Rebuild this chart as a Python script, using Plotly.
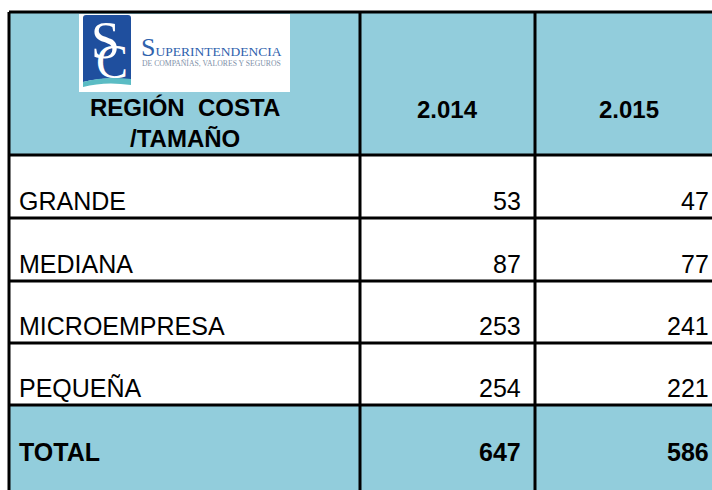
import plotly.graph_objects as go

# table content
header_label = "REGIÓN  COSTA<br>/TAMAÑO"
years = ["2.014", "2.015"]
sizes = ["GRANDE", "MEDIANA", "MICROEMPRESA", "PEQUEÑA"]
values_2014 = [53, 87, 253, 254]
values_2015 = [47, 77, 241, 221]
total_label = "TOTAL"
totals = [647, 586]

# layout of the sheet (pixel units on hidden axes)
col_edges = [9, 360, 535, 723]
row_edges = [12, 155, 218, 281, 343, 405, 500]
BLUE = "#92CDDC"
FONT = "Arial, Liberation Sans, sans-serif"
SERIF = "Times New Roman, Liberation Serif, serif"
W, H = 712, 490

fig = go.Figure()

# cell fills: header and total rows in blue, body rows white
z = [[1] * 3] + [[0] * 3 for _ in sizes] + [[1] * 3]
fig.add_trace(go.Heatmap(
    x=col_edges, y=row_edges, z=z,
    colorscale=[[0, "white"], [1, BLUE]],
    showscale=False, hoverinfo="skip",
))

# grid lines
for y in row_edges:
    fig.add_shape(type="line", x0=col_edges[0], x1=col_edges[-1], y0=y, y1=y,
                  line=dict(color="black", width=3))
for x in col_edges:
    fig.add_shape(type="line", x0=x, x1=x, y0=row_edges[0], y1=row_edges[-1],
                  line=dict(color="black", width=3))

# logo
fig.add_shape(type="rect", x0=79, x1=290, y0=14, y1=92, fillcolor="white", line_width=0, layer="above")
fig.add_shape(type="path", path="M 83,18 Q 83,15 86,15 L 128,15 Q 131,15 131,18 L 131,80 Q 105,76 83,82 Z",
              fillcolor="#1f4f9e", line_width=0, layer="above")
fig.add_shape(type="path", path="M 83,82 Q 105,76 131,79 L 131,85 Q 105,81 83,87 Z",
              fillcolor="#5bbcc4", line_width=0, layer="above")
fig.add_annotation(x=105, y=40, text="S", showarrow=False, xanchor="center", yanchor="middle",
                   font=dict(family=SERIF, size=52, color="white"))
fig.add_annotation(x=112, y=61, text="C", showarrow=False, xanchor="center", yanchor="middle",
                   font=dict(family=SERIF, size=48, color="white"))
fig.add_annotation(x=139, y=47, text="<span style='font-size:26px'>S</span>UPERINTENDENCIA",
                   showarrow=False, xanchor="left", yanchor="middle",
                   font=dict(family=SERIF, size=13.5, color="#2f62ad"))
fig.add_annotation(x=140, y=63, text="DE COMPAÑÍAS, VALORES Y SEGUROS",
                   showarrow=False, xanchor="left", yanchor="middle",
                   font=dict(family=SERIF, size=7.7, color="#8090a8"))

# header text
fig.add_annotation(x=(col_edges[0] + col_edges[1]) / 2, y=123, text="<b>%s</b>" % header_label,
                   showarrow=False, xanchor="center", yanchor="middle",
                   font=dict(family=FONT, size=24, color="black"))
for i, yr in enumerate(years):
    fig.add_annotation(x=(col_edges[i + 1] + col_edges[i + 2]) / 2, y=109, text="<b>%s</b>" % yr,
                       showarrow=False, xanchor="center", yanchor="middle",
                       font=dict(family=FONT, size=24, color="black"))

# body rows
for r, name in enumerate(sizes):
    yc = row_edges[r + 2] - 17
    fig.add_annotation(x=col_edges[0] + 8, y=yc, text=name, showarrow=False,
                       xanchor="left", yanchor="middle", font=dict(family=FONT, size=25, color="black"))
    for c, vals in enumerate([values_2014, values_2015]):
        fig.add_annotation(x=col_edges[c + 2] - 12, y=yc, text=str(vals[r]), showarrow=False,
                           xanchor="right", yanchor="middle", font=dict(family=FONT, size=25, color="black"))

# total row
yt = row_edges[5] + 47
fig.add_annotation(x=col_edges[0] + 8, y=yt, text="<b>%s</b>" % total_label, showarrow=False,
                   xanchor="left", yanchor="middle", font=dict(family=FONT, size=25, color="black"))
for c, t in enumerate(totals):
    fig.add_annotation(x=col_edges[c + 2] - 12, y=yt, text="<b>%d</b>" % t, showarrow=False,
                       xanchor="right", yanchor="middle", font=dict(family=FONT, size=25, color="black"))

fig.update_layout(
    width=W, height=H,
    margin=dict(l=0, r=0, t=0, b=0),
    paper_bgcolor="white", plot_bgcolor="white",
    showlegend=False,
    xaxis=dict(range=[0, W], visible=False, fixedrange=True),
    yaxis=dict(range=[H, 0], visible=False, fixedrange=True),
)

# drop the default page margin so the figure sits at the window's corner
fig.write_html("out.html", config={"displayModeBar": False},
               post_script="document.body.style.margin='0';document.body.style.overflow='hidden';")
